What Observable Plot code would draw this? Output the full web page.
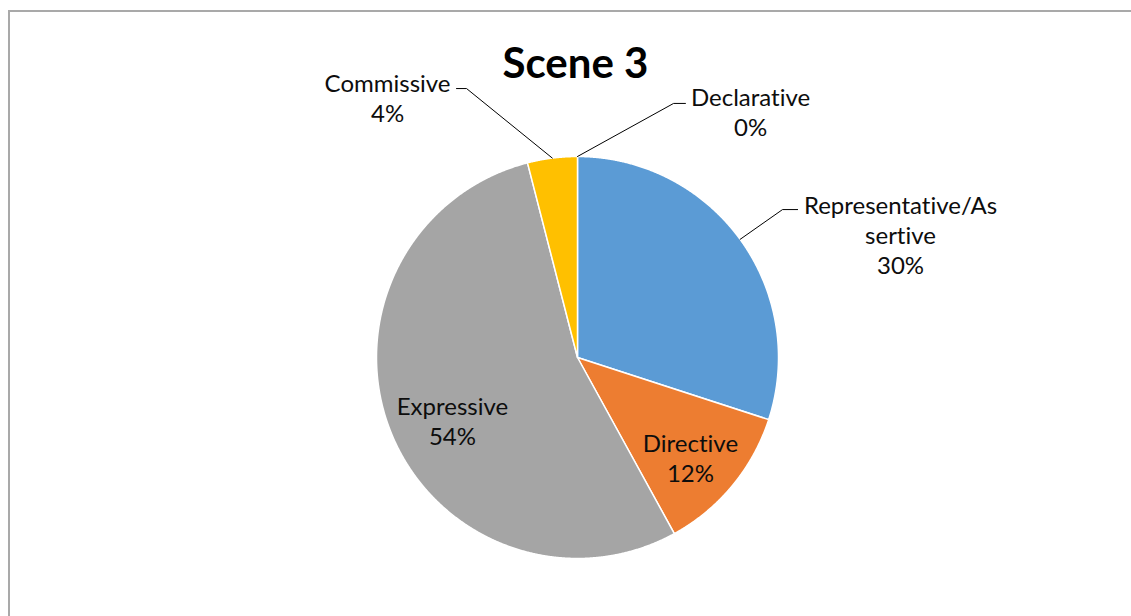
<!DOCTYPE html>
<html><head><meta charset="utf-8">
<script src="https://cdn.jsdelivr.net/npm/d3@7"></script>
<script src="https://cdn.jsdelivr.net/npm/@observablehq/plot@0.6"></script>
<style>
html,body{margin:0;padding:0;background:#fff;overflow:hidden;width:1131px;height:616px}
#frame{position:absolute;left:8px;top:10px;width:2000px;height:2000px;border-left:2px solid #A9A9A9;border-top:2px solid #A9A9A9;}
#chart{position:absolute;left:0;top:0}
svg text{font-variant-ligatures:none;font-feature-settings:"liga" 0,"dlig" 0,"clig" 0}
</style></head><body><div id="frame"></div><div id="chart"></div>
<script>
// ---- data ----
const title = "Scene 3";
const categories = ["Representative/Assertive", "Directive", "Expressive", "Commissive", "Declarative"];
const labelLines = ["Representative/As\nsertive", "Directive", "Expressive", "Commissive", "Declarative"];
const percents = [30, 12, 54, 4, 0];
const colors = ["#5B9BD5", "#ED7D31", "#A5A5A5", "#FFC000", "#4472C4"];

// ---- layout (radius units, relative to pie centre; y up) ----
const W = 1131, H = 616, CX = 577, CY = 357, R = 201;
const labelPos = {
  "Representative/Assertive": {x: 1.607, y: 0.612, elbow: [1.020, 0.736], end: [1.095, 0.736]},
  "Directive": {x: 0.562, y: -0.499},
  "Expressive": {x: -0.622, y: -0.315},
  "Commissive": {x: -0.945, y: 1.294, elbow: [-0.552, 1.338], end: [-0.602, 1.338]},
  "Declarative": {x: 0.861, y: 1.224, elbow: [0.478, 1.264], end: [0.537, 1.264]}
};

const rows = categories.map((c, i) => ({category: c, value: percents[i], label: labelLines[i] + "\n" + percents[i] + "%"}));
const arcs = d3.pie().sort(null).value(d => d.value)(rows);

const slicePts = [];
for (const a of arcs) {
  const span = a.endAngle - a.startAngle;
  if (span <= 0) continue;
  const c = a.data.category;
  slicePts.push({category: c, x: 0, y: 0});
  const n = Math.max(2, Math.ceil(span / 0.004));
  for (let i = 0; i <= n; i++) {
    const t = a.startAngle + span * i / n;
    slicePts.push({category: c, x: Math.sin(t), y: Math.cos(t)});
  }
  slicePts.push({category: c, x: 0, y: 0});
}

const leaderPts = [];
const labels = [];
for (const a of arcs) {
  const c = a.data.category, L = labelPos[c];
  labels.push({category: c, x: L.x, y: L.y, text: a.data.label});
  if (L.elbow) {
    const m = (a.startAngle + a.endAngle) / 2;
    leaderPts.push({category: c, x: Math.sin(m), y: Math.cos(m)});
    leaderPts.push({category: c, x: L.elbow[0], y: L.elbow[1]});
    leaderPts.push({category: c, x: L.end[0], y: L.end[1]});
  }
}

const chart = Plot.plot({
  width: W, height: H,
  margin: 0,
  x: {domain: [-CX / R, (W - CX) / R], axis: null},
  y: {domain: [-(H - CY) / R, CY / R], axis: null},
  color: {domain: categories, range: colors},
  style: {fontFamily: "Lato, 'Open Sans', sans-serif", background: "transparent", overflow: "visible"},
  marks: [
    Plot.line(slicePts, {x: "x", y: "y", z: "category", fill: "category", stroke: "white", strokeWidth: 1.5, strokeLinejoin: "round"}),
    Plot.line(leaderPts, {x: "x", y: "y", z: "category", stroke: "#000", strokeWidth: 1}),
    Plot.text(labels, {x: "x", y: "y", text: "text", fontSize: 24, lineHeight: 1.25, lineAnchor: "middle", textAnchor: "middle", fill: "#0d0d0d"}),
    Plot.text([title], {x: [-0.01], y: [1.455], text: d => d, fontSize: 42, fontWeight: "bold", fill: "#000"})
  ]
});
document.getElementById("chart").append(chart);
</script></body></html>
